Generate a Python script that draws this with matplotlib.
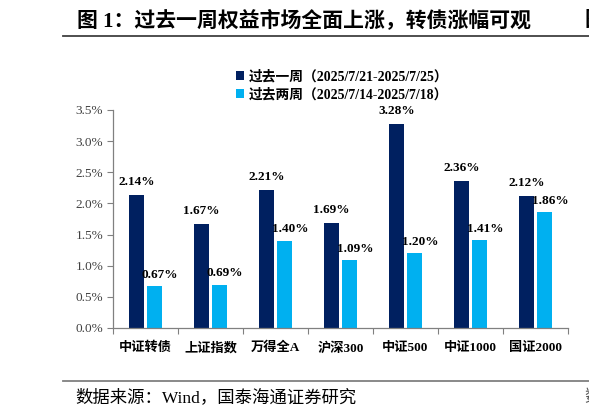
import numpy as np
import matplotlib
matplotlib.use("Agg")
import matplotlib.pyplot as plt
from matplotlib.lines import Line2D
from matplotlib.ticker import FuncFormatter, FixedLocator

# 数据
categories = ['中证转债', '上证指数', '万得全A', '沪深300', '中证500', '中证1000', '国证2000']
last_week = [2.14, 1.67, 2.21, 1.69, 3.28, 2.36, 2.12]
prev_week = [0.67, 0.69, 1.40, 1.09, 1.20, 1.41, 1.86]
series_names = ['过去一周（2025/7/21-2025/7/25）', '过去两周（2025/7/14-2025/7/18）']
title_text = '图 1：过去一周权益市场全面上涨，转债涨幅可观'
source_text = '数据来源：Wind，国泰海通证券研究'

fam = ['Liberation Serif', 'Noto Sans CJK SC']
dark = '#002060'
light = '#00B0F0'

W, H = 589, 417
fig = plt.figure(figsize=(W / 100, H / 100), dpi=100)
ax = fig.add_axes([113 / W, 1 - 328 / H, (568 - 113) / W, (328 - 110) / H])

x = np.arange(len(categories))
bw = 0.223
off = 0.14
b1 = ax.bar(x - off, last_week, bw, color=dark, label=series_names[0])
b2 = ax.bar(x + off, prev_week, bw, color=light, label=series_names[1])

for xi, v in zip(x, last_week):
    ax.annotate(f'{v:.2f}%', (xi - off, v), xytext=(0, 5), textcoords='offset points',
                ha='center', va='bottom', fontsize=9.5, fontweight='bold', family=fam)
for xi, v in zip(x, prev_week):
    ax.annotate(f'{v:.2f}%', (xi + off, v), xytext=(4, 4), textcoords='offset points',
                ha='center', va='bottom', fontsize=9.5, fontweight='bold', family=fam)

ax.set_xlim(-0.5, len(categories) - 0.5)
ax.set_ylim(0, 3.5)
ax.set_yticks(np.arange(0, 3.51, 0.5))
ax.yaxis.set_major_formatter(FuncFormatter(lambda v, p: f'{v:.1f}%'))
ax.set_xticks(x)
ax.set_xticklabels(categories)
ax.xaxis.set_minor_locator(FixedLocator(np.arange(-0.5, len(categories), 1.0)))
ax.tick_params(axis='x', which='major', length=0, pad=10)
ax.tick_params(axis='x', which='minor', length=4, color='#808080', width=0.8)
ax.tick_params(axis='y', length=4, color='#808080', width=0.8, pad=3)

for lab in ax.get_xticklabels():
    lab.set_family(fam)
    lab.set_fontweight('bold')
    lab.set_fontsize(9.5)
for lab in ax.get_yticklabels():
    lab.set_family(fam)
    lab.set_fontsize(9.5)
    lab.set_color('#404040')

for s in ['top', 'right']:
    ax.spines[s].set_visible(False)
for s in ['left', 'bottom']:
    ax.spines[s].set_color('#808080')
    ax.spines[s].set_linewidth(0.9)

leg = fig.legend(handles=[b1, b2], labels=series_names, loc='upper left',
                 bbox_to_anchor=(236 / W, 1 - 70 / H), frameon=False,
                 handlelength=0.6, handleheight=0.6, handletextpad=0.35,
                 labelspacing=0.3, borderpad=0, borderaxespad=0,
                 prop={'family': fam, 'weight': 'bold', 'size': 9.9})

# 标题与来源
fig.text(77 / W, 1 - 21 / H, title_text, fontsize=15, fontweight='bold',
         family=fam, va='center', ha='left')
fig.text(584 / W, 1 - 21 / H, '图', fontsize=15, fontweight='bold',
         family=fam, va='center', ha='left')
fig.add_artist(Line2D([63 / W, 1], [1 - 36 / H, 1 - 36 / H], color='#404040', lw=1.3))
fig.add_artist(Line2D([63 / W, 1], [1 - 381 / H, 1 - 381 / H], color='#808080', lw=1.3))
fig.text(75 / W, 1 - 398 / H, source_text, fontsize=12.5, family=fam,
         va='center', ha='left')
fig.text(584 / W, 1 - 398 / H, '数', fontsize=12.5, family=fam,
         va='center', ha='left', color='#555555')

fig.savefig('out.png', dpi=100)
